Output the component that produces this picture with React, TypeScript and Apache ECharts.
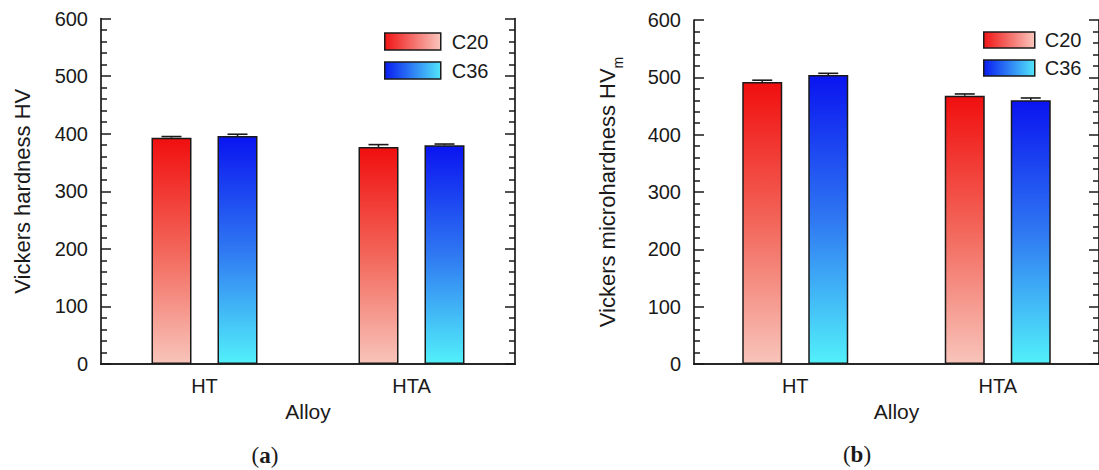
import React, { useEffect, useRef } from 'react';
import * as echarts from 'echarts';

// ---------- data ----------
const categories = ['HT', 'HTA'];
const seriesNames = ['C20', 'C36'];
const yMin = 0;
const yMax = 600;
const yInterval = 100;

// (a) Vickers hardness HV
const hardnessC20 = [393, 377];
const hardnessC20Err = [2, 4];
const hardnessC36 = [396, 380];
const hardnessC36Err = [3, 2];

// (b) Vickers microhardness HVm
const microC20 = [492, 468];
const microC20Err = [3, 3];
const microC36 = [504, 460];
const microC36Err = [3, 4];

const FONT = "'Liberation Sans', Arial, sans-serif";
const SERIF = "'Liberation Serif', 'DejaVu Serif', serif";
const INK = '#1a1a1a';

const redGrad = () =>
  new echarts.graphic.LinearGradient(0, 0, 0, 1, [
    { offset: 0, color: '#f00f0f' },
    { offset: 0.5, color: '#f3665a' },
    { offset: 1, color: '#f8c4ba' },
  ]);
const blueGrad = () =>
  new echarts.graphic.LinearGradient(0, 0, 0, 1, [
    { offset: 0, color: '#0a14f0' },
    { offset: 0.5, color: '#2f78f2' },
    { offset: 1, color: '#52f0fa' },
  ]);
const redLegend = () =>
  new echarts.graphic.LinearGradient(0, 0, 1, 0, [
    { offset: 0, color: '#f01515' },
    { offset: 1, color: '#f9c6bd' },
  ]);
const blueLegend = () =>
  new echarts.graphic.LinearGradient(0, 0, 1, 0, [
    { offset: 0, color: '#0a1cf0' },
    { offset: 1, color: '#52e6fa' },
  ]);

const BAR_W = 40;
const BAR_OFF = 33; // half of (bar width + gap) between the two bars of a group

function errRender(offset: number) {
  return (params: any, api: any) => {
    const cat = api.value(0);
    const val = api.value(1);
    const err = api.value(2);
    const base = api.coord([cat, val]);
    const top = api.coord([cat, val + err]);
    const x = base[0] + offset;
    const st = { stroke: INK, lineWidth: 1.6 };
    return {
      type: 'group',
      children: [
        { type: 'line', shape: { x1: x, y1: base[1], x2: x, y2: top[1] }, style: st },
        { type: 'line', shape: { x1: x - 10, y1: top[1], x2: x + 10, y2: top[1] }, style: st },
      ],
    };
  };
}

function gridAxes(gridIndex: number, yName: any, yNameGap: number) {
  const xBottom = {
    type: 'category',
    gridIndex,
    data: categories,
    position: 'bottom',
    name: 'Alloy',
    nameLocation: 'middle',
    nameGap: 37,
    nameTextStyle: { fontFamily: FONT, fontSize: 21, color: INK },
    axisLine: { show: true, lineStyle: { color: INK, width: 1.7 } },
    axisTick: { show: false },
    axisLabel: { fontFamily: FONT, fontSize: 20, color: INK, margin: 12 },
    splitLine: { show: false },
  };
  const xTop = {
    type: 'category',
    gridIndex,
    data: categories,
    position: 'top',
    axisLine: { show: true, lineStyle: { color: INK, width: 1.7 } },
    axisTick: { show: false },
    axisLabel: { show: false },
    splitLine: { show: false },
  };
  const yLeft = {
    type: 'value',
    gridIndex,
    position: 'left',
    min: yMin,
    max: yMax,
    interval: yInterval,
    name: yName.text,
    nameLocation: 'middle',
    nameGap: yNameGap,
    nameRotate: 90,
    nameTextStyle: {
      fontFamily: FONT,
      fontSize: 22,
      color: INK,
      rich: yName.rich,
    },
    axisLine: { show: true, lineStyle: { color: INK, width: 1.7 } },
    axisTick: { show: true, inside: true, length: 10, lineStyle: { color: INK, width: 1.5 } },
    minorTick: { show: true, splitNumber: 5, length: 6, lineStyle: { color: INK, width: 1.5 } },
    axisLabel: { fontFamily: FONT, fontSize: 20, color: INK, margin: 13 },
    splitLine: { show: false },
  };
  const yRight = {
    type: 'value',
    gridIndex,
    position: 'right',
    min: yMin,
    max: yMax,
    interval: yInterval,
    axisLine: { show: true, lineStyle: { color: INK, width: 1.7 } },
    axisTick: { show: true, inside: true, length: 10, lineStyle: { color: INK, width: 1.5 } },
    minorTick: { show: true, splitNumber: 5, length: 6, lineStyle: { color: INK, width: 1.5 } },
    axisLabel: { show: false },
    splitLine: { show: false },
  };
  return { x: [xBottom, xTop], y: [yLeft, yRight] };
}

function barSeries(name: string, values: number[], xi: number, yi: number, color: any) {
  return {
    type: 'bar',
    name,
    xAxisIndex: xi,
    yAxisIndex: yi,
    data: values,
    barWidth: BAR_W,
    barGap: '65%',
    itemStyle: { color, borderColor: INK, borderWidth: 1.5 },
    z: 2,
  };
}

function errSeries(name: string, values: number[], errs: number[], xi: number, yi: number, offset: number) {
  return {
    type: 'custom',
    name,
    xAxisIndex: xi,
    yAxisIndex: yi,
    data: categories.map((_, i) => [i, values[i], errs[i]]),
    encode: { x: 0, y: 1 },
    renderItem: errRender(offset),
    z: 3,
  };
}

function legendFor(left: number, top: number, w: number, h: number, gap: number, textPad: number) {
  return {
    orient: 'vertical',
    left,
    top,
    padding: 0,
    itemWidth: w,
    itemHeight: h,
    itemGap: gap,
    icon: 'rect',
    selectedMode: false,
    textStyle: { fontFamily: FONT, fontSize: 20, color: INK, lineHeight: 20, padding: [0, 0, 0, textPad] },
    data: [
      { name: seriesNames[0], itemStyle: { color: redLegend(), borderColor: INK, borderWidth: 1.5 } },
      { name: seriesNames[1], itemStyle: { color: blueLegend(), borderColor: INK, borderWidth: 1.5 } },
    ],
  };
}

export default function App() {
  const ref = useRef<HTMLDivElement>(null);
  useEffect(() => {
    if (!ref.current) return;
    const chart = echarts.init(ref.current, undefined, { renderer: 'svg' });
    const a = gridAxes(0, { text: 'Vickers hardness HV' }, 68);
    const b = gridAxes(
      1,
      {
        text: '{m|Vickers microhardness HV}{s|m}',
        rich: {
          m: { fontFamily: FONT, fontSize: 22, color: INK, lineHeight: 22, verticalAlign: 'top' },
          s: { fontFamily: FONT, fontSize: 14, color: INK, lineHeight: 44, verticalAlign: 'middle' },
        },
      },
      54
    );
    const option: any = {
      animation: false,
      backgroundColor: '#ffffff',
      grid: [
        { left: 101, top: 18.5, width: 414, height: 345.5 },
        { left: 694, top: 20, width: 414, height: 344 },
      ],
      xAxis: [...a.x, ...b.x],
      yAxis: [...a.y, ...b.y],
      legend: [legendFor(384, 31.5, 56, 17, 9, 6), legendFor(983, 30, 51, 16, 8, 5)],
      series: [
        barSeries(seriesNames[0], hardnessC20, 0, 0, redGrad()),
        barSeries(seriesNames[1], hardnessC36, 0, 0, blueGrad()),
        errSeries('C20 error (a)', hardnessC20, hardnessC20Err, 0, 0, -BAR_OFF),
        errSeries('C36 error (a)', hardnessC36, hardnessC36Err, 0, 0, BAR_OFF),
        barSeries(seriesNames[0], microC20, 2, 2, redGrad()),
        barSeries(seriesNames[1], microC36, 2, 2, blueGrad()),
        errSeries('C20 error (b)', microC20, microC20Err, 2, 2, -BAR_OFF),
        errSeries('C36 error (b)', microC36, microC36Err, 2, 2, BAR_OFF),
      ],
      graphic: [
        {
          type: 'text',
          x: 265,
          y: 455,
          style: {
            text: '({b|a})',
            fontFamily: SERIF,
            fontSize: 23,
            fill: INK,
            align: 'center',
            verticalAlign: 'middle',
            rich: { b: { fontFamily: SERIF, fontSize: 23, fontWeight: 'bold', fill: INK } },
          },
        },
        {
          type: 'text',
          x: 857,
          y: 454,
          style: {
            text: '({b|b})',
            fontFamily: SERIF,
            fontSize: 23,
            fill: INK,
            align: 'center',
            verticalAlign: 'middle',
            rich: { b: { fontFamily: SERIF, fontSize: 23, fontWeight: 'bold', fill: INK } },
          },
        },
      ],
    };
    chart.setOption(option);
    return () => chart.dispose();
  }, []);
  return (
    <div
      ref={ref}
      style={{ position: 'fixed', left: 0, top: 0, width: 1099, height: 470, background: '#fff' }}
    />
  );
}
